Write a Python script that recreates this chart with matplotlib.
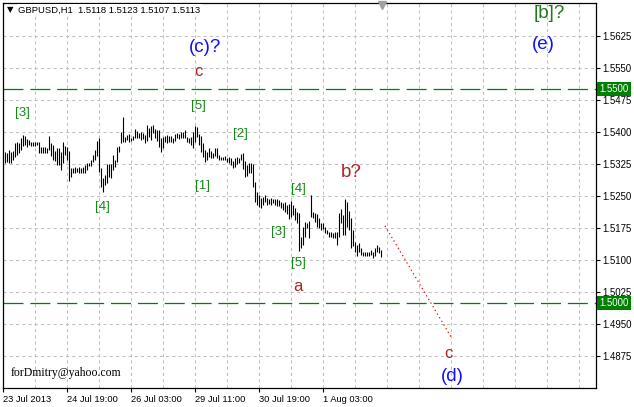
import numpy as np
import matplotlib
matplotlib.use("Agg")
import matplotlib.pyplot as plt
import matplotlib.transforms as mtransforms

# ---- data (H1 bars, high / low) ----
highs = [1.5353, 1.5351, 1.5358, 1.5353, 1.5355, 1.5374, 1.5377, 1.5374, 1.5386, 1.5393,
         1.5391, 1.5384, 1.5381, 1.5377, 1.5377, 1.5377, 1.5377, 1.5377, 1.5365, 1.5365,
         1.5365, 1.5363, 1.5391, 1.5374, 1.5370, 1.5355, 1.5363, 1.5363, 1.5353, 1.5377,
         1.5367, 1.5365, 1.5355, 1.5316, 1.5316, 1.5318, 1.5316, 1.5318, 1.5316, 1.5318,
         1.5323, 1.5327, 1.5327, 1.5334, 1.5346, 1.5358, 1.5379, 1.5386, 1.5316, 1.5292,
         1.5299, 1.5325, 1.5325, 1.5325, 1.5346, 1.5334, 1.5365, 1.5367, 1.5400, 1.5435,
         1.5388, 1.5393, 1.5395, 1.5386, 1.5391, 1.5407, 1.5402, 1.5398, 1.5400, 1.5398,
         1.5393, 1.5416, 1.5409, 1.5414, 1.5416, 1.5407, 1.5405, 1.5405, 1.5386, 1.5388,
         1.5391, 1.5393, 1.5391, 1.5391, 1.5386, 1.5395, 1.5398, 1.5395, 1.5400, 1.5400,
         1.5405, 1.5388, 1.5386, 1.5388, 1.5400, 1.5414, 1.5412, 1.5395, 1.5391, 1.5374,
         1.5358, 1.5353, 1.5363, 1.5355, 1.5351, 1.5363, 1.5363, 1.5346, 1.5341, 1.5341,
         1.5344, 1.5339, 1.5341, 1.5339, 1.5332, 1.5339, 1.5341, 1.5339, 1.5348, 1.5351,
         1.5332, 1.5323, 1.5327, 1.5327, 1.5325, 1.5283, 1.5259, 1.5252, 1.5245, 1.5248,
         1.5252, 1.5245, 1.5243, 1.5245, 1.5243, 1.5243, 1.5243, 1.5241, 1.5236, 1.5234,
         1.5236, 1.5229, 1.5231, 1.5238, 1.5229, 1.5222, 1.5213, 1.5210, 1.5154, 1.5177,
         1.5189, 1.5187, 1.5191, 1.5252, 1.5213, 1.5210, 1.5208, 1.5199, 1.5187, 1.5187,
         1.5177, 1.5170, 1.5166, 1.5166, 1.5163, 1.5166, 1.5166, 1.5210, 1.5220, 1.5206,
         1.5243, 1.5236, 1.5215, 1.5199, 1.5170, 1.5142, 1.5135, 1.5140, 1.5128, 1.5119,
         1.5119, 1.5119, 1.5119, 1.5124, 1.5119, 1.5128, 1.5135, 1.5130, 1.5123]
lows = [1.5327, 1.5330, 1.5327, 1.5327, 1.5334, 1.5341, 1.5346, 1.5351, 1.5358, 1.5367,
        1.5370, 1.5365, 1.5370, 1.5367, 1.5367, 1.5367, 1.5370, 1.5351, 1.5351, 1.5351,
        1.5351, 1.5351, 1.5358, 1.5344, 1.5334, 1.5332, 1.5323, 1.5323, 1.5311, 1.5327,
        1.5346, 1.5334, 1.5285, 1.5295, 1.5304, 1.5304, 1.5306, 1.5304, 1.5304, 1.5304,
        1.5304, 1.5311, 1.5320, 1.5320, 1.5330, 1.5334, 1.5344, 1.5306, 1.5271, 1.5259,
        1.5276, 1.5281, 1.5295, 1.5292, 1.5311, 1.5318, 1.5330, 1.5353, 1.5374, 1.5377,
        1.5377, 1.5381, 1.5377, 1.5379, 1.5381, 1.5386, 1.5386, 1.5386, 1.5381, 1.5384,
        1.5374, 1.5379, 1.5388, 1.5381, 1.5398, 1.5386, 1.5379, 1.5365, 1.5353, 1.5363,
        1.5377, 1.5374, 1.5377, 1.5377, 1.5374, 1.5379, 1.5386, 1.5384, 1.5386, 1.5386,
        1.5386, 1.5377, 1.5374, 1.5370, 1.5363, 1.5377, 1.5388, 1.5370, 1.5353, 1.5341,
        1.5330, 1.5334, 1.5341, 1.5339, 1.5339, 1.5344, 1.5339, 1.5334, 1.5334, 1.5334,
        1.5334, 1.5330, 1.5327, 1.5323, 1.5316, 1.5318, 1.5325, 1.5327, 1.5334, 1.5313,
        1.5295, 1.5297, 1.5304, 1.5304, 1.5271, 1.5236, 1.5229, 1.5225, 1.5222, 1.5229,
        1.5236, 1.5229, 1.5231, 1.5229, 1.5234, 1.5229, 1.5227, 1.5227, 1.5222, 1.5217,
        1.5213, 1.5208, 1.5196, 1.5201, 1.5206, 1.5194, 1.5187, 1.5121, 1.5128, 1.5135,
        1.5154, 1.5175, 1.5152, 1.5201, 1.5199, 1.5189, 1.5177, 1.5175, 1.5170, 1.5173,
        1.5163, 1.5161, 1.5154, 1.5154, 1.5152, 1.5152, 1.5135, 1.5154, 1.5187, 1.5159,
        1.5159, 1.5177, 1.5170, 1.5128, 1.5133, 1.5119, 1.5109, 1.5119, 1.5112, 1.5109,
        1.5109, 1.5109, 1.5109, 1.5112, 1.5105, 1.5109, 1.5119, 1.5116, 1.5107]

x_tick_labels = ["23 Jul 2013", "24 Jul 19:00", "26 Jul 03:00", "29 Jul 11:00",
                 "30 Jul 19:00", "1 Aug 03:00"]
y_tick_values = [1.4875, 1.4950, 1.5025, 1.5100, 1.5175, 1.5250, 1.5325,
                 1.5400, 1.5475, 1.5550, 1.5625]
level_lines = [1.5500, 1.5000]
projection_x = [191, 224]
projection_y = [1.5180, 1.4920]

header = "GBPUSD,H1  1.5118 1.5123 1.5107 1.5113"

# wave labels: (text, bar index, price, kind)
wave_labels = [
    ("(c)?", 101, 1.5599, "blue"),
    ("c", 97.5, 1.5541, "red"),
    ("[5]", 97.5, 1.5461, "green"),
    ("[3]", 9.5, 1.5445, "green"),
    ("[2]", 118.5, 1.5395, "green"),
    ("[1]", 99.5, 1.5273, "green"),
    ("[4]", 49.5, 1.5224, "green"),
    ("[4]", 147.5, 1.5266, "green"),
    ("[3]", 137.5, 1.5166, "green"),
    ("[5]", 147.5, 1.5093, "green"),
    ("a", 147.5, 1.5037, "red"),
    ("b?", 174, 1.5306, "redbig"),
    ("[b]?", 273, 1.5677, "greenbig"),
    ("(e)", 270, 1.5604, "blue"),
    ("c", 222.5, 1.4880, "red"),
    ("(d)", 224.5, 1.4828, "blue"),
]

# ---- figure ----
W, H = 634, 407
fig = plt.figure(figsize=(W / 100, H / 100), dpi=100)
ax = fig.add_axes([3 / W, 1 - 388 / H, 593 / W, 385 / H])
ax.set_xlim(0, 296.5)
ax.set_ylim(1.4800, 1.57023)

# grid
grid_kw = dict(color="#c0c0c0", lw=0.75, ls=(0, (3, 3)), zorder=0)
for gx in np.arange(16, 296, 16):
    ax.axvline(gx, **grid_kw)
for gy in y_tick_values:
    ax.axhline(gy, **grid_kw)

# level lines
for lv in level_lines:
    ax.axhline(lv, color="#008000", lw=0.9, ls=(0, (16, 5.5)), zorder=1)

# bars
xs = np.arange(1, len(highs) + 1)
ax.vlines(xs, lows, highs, color="black", lw=0.8, zorder=3)

# projection
ax.plot(projection_x, projection_y, color="#ff0000", lw=0.9, ls=(0, (1, 2.4)), zorder=3)

# wave labels
styles = {
    "blue": dict(color="#1010ff", fontsize=13.5),
    "red": dict(color="#b22222", fontsize=12),
    "redbig": dict(color="#b22222", fontsize=13.5),
    "green": dict(color="#138a13", fontsize=9.5),
    "greenbig": dict(color="#1e7b1e", fontsize=13.5),
}
for txt, bx, py, kind in wave_labels:
    ax.text(bx, py, txt, ha="center", va="center", family="Liberation Sans",
            zorder=5, **styles[kind])

# header
ax.text(0.012, 0.982, "\u25BC", transform=ax.transAxes, fontsize=6, ha="center",
        va="center", color="black", family="DejaVu Sans", zorder=8)
ax.text(0.026, 0.982, header, transform=ax.transAxes, fontsize=6.8, ha="left",
        va="center", color="black", family="Liberation Sans", zorder=8,
        bbox=dict(boxstyle="square,pad=0.15", facecolor="white", edgecolor="none"))
ax.text(0.0135, 0.039, "forDmitry@yahoo.com", transform=ax.transAxes, fontsize=8.5,
        ha="left", va="center", color="black", family="Liberation Serif")

# shift marker at top
trans = mtransforms.blended_transform_factory(ax.transData, ax.transAxes)
ax.plot([189.5], [0.994], marker="v", color="#a0a0a0", markersize=5.5,
        transform=trans, clip_on=False, zorder=6)

# axes
ax.set_xticks([0, 32, 64, 96, 128, 160])
ax.set_xticklabels(x_tick_labels)
for lab in ax.get_xticklabels():
    lab.set_horizontalalignment("left")
    lab.set_fontfamily("Liberation Sans")
    lab.set_fontsize(6.7)
ax.tick_params(axis="x", direction="out", length=3, width=0.8, pad=1.8, colors="black")

ax.yaxis.tick_right()
ax.set_yticks(y_tick_values)
ax.set_yticklabels([f"{v:.4f}" for v in y_tick_values])
for lab in ax.get_yticklabels():
    lab.set_fontfamily("Liberation Sans")
    lab.set_fontsize(6.9)
ax.tick_params(axis="y", direction="out", length=3, width=0.8, pad=1.5, colors="black")

for sp in ax.spines.values():
    sp.set_color("black")
    sp.set_linewidth(0.9)

# highlighted level labels
ytrans = mtransforms.blended_transform_factory(ax.transAxes, ax.transData)
for lv in level_lines:
    ax.text(1.006, lv, f"{lv:.4f}", transform=ytrans, ha="left", va="center",
            fontsize=6.9, color="white", family="Liberation Sans", zorder=7,
            bbox=dict(boxstyle="square,pad=0.22", facecolor="#008000", edgecolor="none"))

fig.savefig("out.png", dpi=100, facecolor="white")
